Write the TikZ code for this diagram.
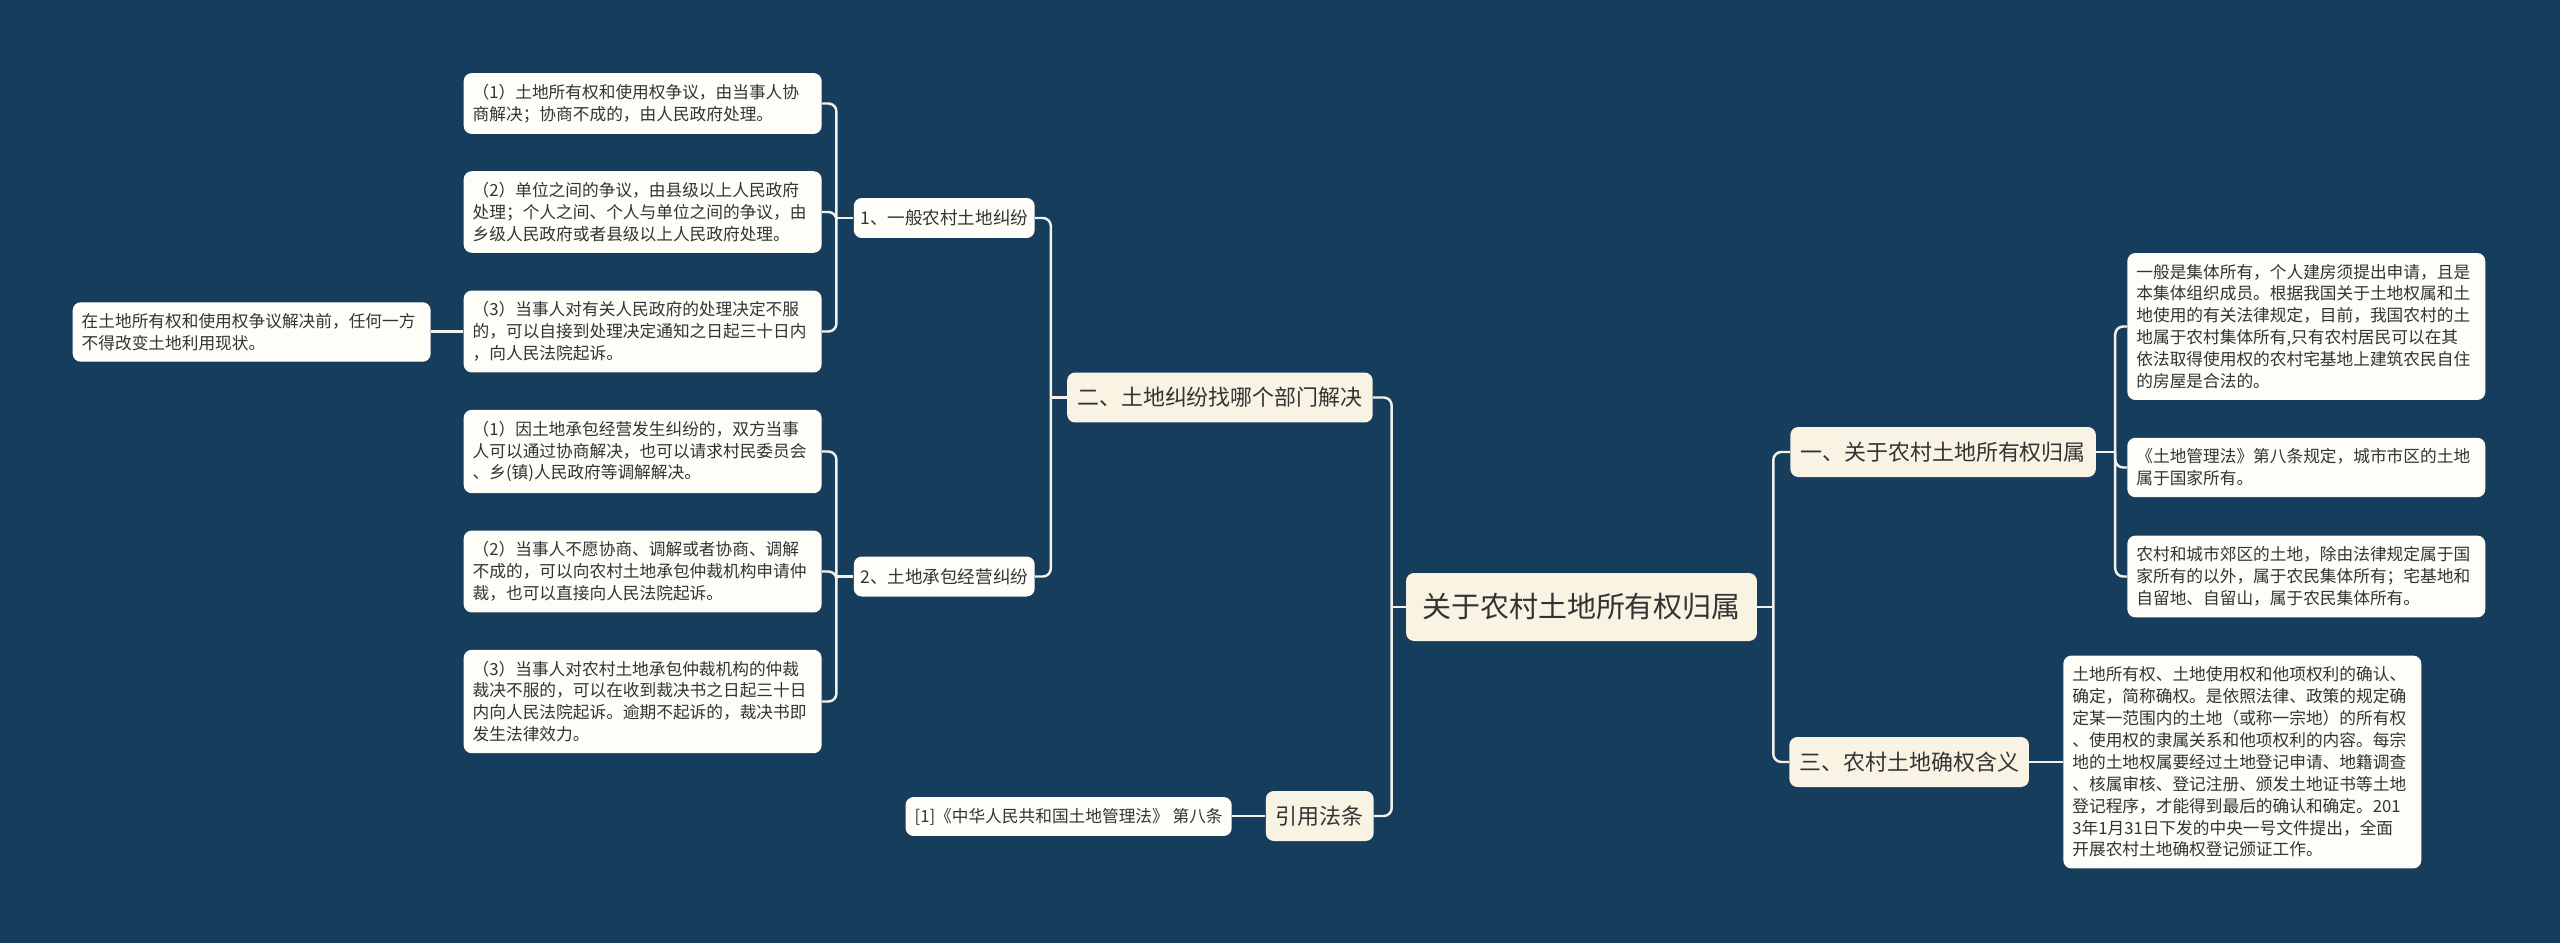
\documentclass[tikz,border=0pt]{standalone}
\usepackage{fontspec}
\setmainfont{Noto Sans CJK SC}
\usetikzlibrary{positioning}
\definecolor{bgblue}{HTML}{173D5D}
\definecolor{cream}{HTML}{F8F3E2}
\definecolor{paper}{HTML}{FFFDF7}
\definecolor{ink}{HTML}{333333}
\definecolor{wire}{HTML}{F2F1EC}

\begin{document}
\begin{tikzpicture}[x=0.02cm, y=-0.02cm,
  box/.style={rounded corners=0.16cm, text=ink, inner ysep=0.22cm},
  mainbox/.style={box, fill=cream, font=\fontsize{16.5}{20}\selectfont, minimum width=7.02cm, minimum height=1.36cm},
  topicbox/.style={box, fill=cream, font=\fontsize{12.5}{15}\selectfont, inner xsep=0.2cm, minimum height=1.0cm},
  subbox/.style={box, fill=paper, font=\fontsize{10}{12}\selectfont, inner xsep=0.13cm, minimum height=0.8cm},
  leafbox/.style={box, fill=paper, font=\fontsize{9.5}{12.47}\selectfont, text width=6.8cm, inner xsep=0.18cm, align=left},
  conn/.style={draw=wire, line width=1.4pt, rounded corners=0.16cm}]

\fill[bgblue] (0,0) rectangle (2560,943);
\useasboundingbox (0,0) rectangle (2560,943);

\node[mainbox] (root) at (1581.5,607) {关于农村土地所有权归属};

\node[topicbox, anchor=west] (own) at (1790,452) {一、关于农村土地所有权归属};
\node[topicbox, anchor=west] (def) at (1789,762) {三、农村土地确权含义};
\node[topicbox, anchor=east] (dispute) at (1373,397.5) {二、土地纠纷找哪个部门解决};
\node[topicbox, anchor=east] (cite) at (1374,816) {引用法条};

\node[subbox, anchor=east] (general) at (1035,218) {1、一般农村土地纠纷};
\node[subbox, anchor=east] (contract) at (1035,576.5) {2、土地承包经营纠纷};

\node[leafbox, anchor=west] (own1) at (2127,326.5) {一般是集体所有，个人建房须提出申请，且是\\本集体组织成员。根据我国关于土地权属和土\\地使用的有关法律规定，目前，我国农村的土\\地属于农村集体所有,只有农村居民可以在其\\依法取得使用权的农村宅基地上建筑农民自住\\的房屋是合法的。};
\node[leafbox, anchor=west] (own2) at (2127,467.5) {《土地管理法》第八条规定，城市市区的土地\\属于国家所有。};
\node[leafbox, anchor=west] (own3) at (2127,576.5) {农村和城市郊区的土地，除由法律规定属于国\\家所有的以外，属于农民集体所有；宅基地和\\自留地、自留山，属于农民集体所有。};
\node[leafbox, anchor=west] (defleaf) at (2063,762) {土地所有权、土地使用权和他项权利的确认、\\确定，简称确权。是依照法律、政策的规定确\\定某一范围内的土地（或称一宗地）的所有权\\、使用权的隶属关系和他项权利的内容。每宗\\地的土地权属要经过土地登记申请、地籍调查\\、核属审核、登记注册、颁发土地证书等土地\\登记程序，才能得到最后的确认和确定。201\\3年1月31日下发的中央一号文件提出，全面\\开展农村土地确权登记颁证工作。};

\node[leafbox, anchor=east] (g1) at (822,103.5) {（1）土地所有权和使用权争议，由当事人协\\商解决；协商不成的，由人民政府处理。};
\node[leafbox, anchor=east] (g2) at (822,212) {（2）单位之间的争议，由县级以上人民政府\\处理；个人之间、个人与单位之间的争议，由\\乡级人民政府或者县级以上人民政府处理。};
\node[leafbox, anchor=east] (g3) at (822,331.5) {（3）当事人对有关人民政府的处理决定不服\\的，可以自接到处理决定通知之日起三十日内\\，向人民法院起诉。};
\node[leafbox, anchor=east] (note) at (431,332) {在土地所有权和使用权争议解决前，任何一方\\不得改变土地利用现状。};

\node[leafbox, anchor=east] (c1) at (822,451.5) {（1）因土地承包经营发生纠纷的，双方当事\\人可以通过协商解决，也可以请求村民委员会\\、乡(镇)人民政府等调解解决。};
\node[leafbox, anchor=east] (c2) at (822,571.5) {（2）当事人不愿协商、调解或者协商、调解\\不成的，可以向农村土地承包仲裁机构申请仲\\裁，也可以直接向人民法院起诉。};
\node[leafbox, anchor=east] (c3) at (822,701.5) {（3）当事人对农村土地承包仲裁机构的仲裁\\裁决不服的，可以在收到裁决书之日起三十日\\内向人民法院起诉。逾期不起诉的，裁决书即\\发生法律效力。};

\node[leafbox, text width=, anchor=east] (citeleaf) at (1232,816.5) {[1]《中华人民共和国土地管理法》 第八条};

\draw[conn] (root.east) -- ++(16,0) coordinate (rbus);
\draw[conn] (rbus) |- (own.west);
\draw[conn] (rbus) |- (def.west);
\draw[conn] (own.east) -- ++(19,0) coordinate (obus);
\foreach \n in {own1,own2,own3}
  \draw[conn] (obus) |- (\n.west);
\draw[conn] (def.east) -- (defleaf.west |- def.east);

\draw[conn] (root.west) -- ++(-14,0) coordinate (lbus);
\draw[conn] (lbus) |- (dispute.east);
\draw[conn] (lbus) |- (cite.east);
\draw[conn] (cite.west) -- (citeleaf.east |- cite.west);
\draw[conn] (dispute.west) -- ++(-16,0) coordinate (dbus);
\draw[conn] (dbus) |- (general.east);
\draw[conn] (dbus) |- (contract.east);
\draw[conn] (general.west) -- ++(-17,0) coordinate (gbus);
\foreach \n in {g1,g2,g3}
  \draw[conn] (gbus) |- (\n.east);
\draw[conn] (g3.west) -- (note.east |- g3.west);
\draw[conn] (contract.west) -- ++(-17,0) coordinate (cbus);
\foreach \n in {c1,c2,c3}
  \draw[conn] (cbus) |- (\n.east);
\end{tikzpicture}
\end{document}
